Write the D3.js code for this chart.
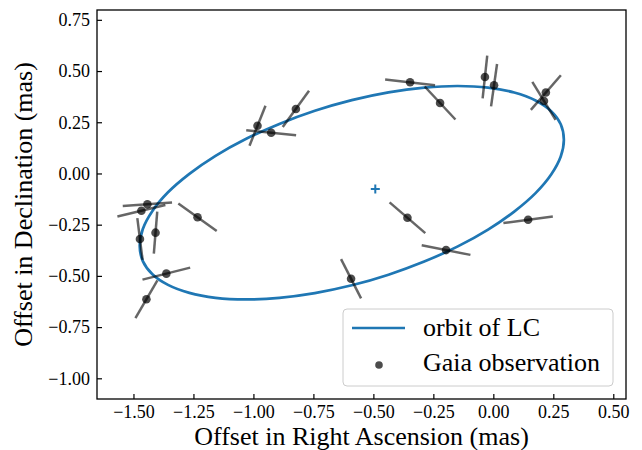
<!DOCTYPE html>
<html>
<head>
<meta charset="utf-8">
<script src="https://cdn.jsdelivr.net/npm/d3@7"></script>
<style>
  html, body { margin: 0; padding: 0; background: #fff; }
  svg { display: block; }
  text { font-family: "Liberation Serif", "Times New Roman", serif; fill: #000; }
</style>
</head>
<body>
<svg id="chart" width="642" height="450"></svg>
<script>
// Sky-plane orbit of the luminous companion (mas), traced around the ellipse
const orbitRA  = [0.294, 0.281, 0.241, 0.176, 0.087, -0.022, -0.148, -0.288, -0.437, -0.590,
                  -0.744, -0.892, -1.032, -1.158, -1.267, -1.356, -1.421, -1.461, -1.474, -1.461,
                  -1.421, -1.356, -1.267, -1.158, -1.032, -0.892, -0.744, -0.590, -0.437, -0.288,
                  -0.148, -0.022, 0.087, 0.176, 0.241, 0.281];
const orbitDec = [0.165, 0.240, 0.304, 0.356, 0.395, 0.419, 0.427, 0.419, 0.396, 0.358,
                  0.306, 0.242, 0.168, 0.086, -0.002, -0.092, -0.183, -0.271, -0.353, -0.428,
                  -0.492, -0.544, -0.583, -0.607, -0.615, -0.607, -0.584, -0.546, -0.494, -0.430,
                  -0.356, -0.274, -0.186, -0.096, -0.005, 0.083];

// Reference position marked with a cross
const centerRA = -0.492;
const centerDec = -0.076;

// Gaia epoch positions (mas) and the half-extent of each scan-direction error bar
const obsRA   = [-0.823, -0.983, -0.926, -1.442, -1.467, -1.233, -1.473, -1.408, -1.363, -1.446,
                 -0.358, -0.197, 0.145, -0.593, -0.347, -0.222, -0.035, 0.003, 0.219, 0.211];
const obsDec  = [0.315, 0.233, 0.199, -0.150, -0.182, -0.214, -0.320, -0.289, -0.489, -0.614,
                 -0.216, -0.374, -0.226, -0.514, 0.445, 0.344, 0.471, 0.431, 0.395, 0.354];
const errRA   = [0.0548, 0.0333, 0.104, 0.1027, 0.100, 0.080, 0.011, -0.0071, 0.0994, 0.0458,
                 0.0744, 0.1015, 0.103, 0.0417, 0.104, 0.064, -0.0096, -0.0125, -0.0625, 0.0485];
const errDec  = [0.0886, 0.0977, -0.0122, 0.0088, 0.0278, -0.0669, -0.1018, -0.1025, 0.0293, 0.0918,
                 -0.0750, -0.0234, 0.0161, -0.0959, -0.0139, -0.0806, -0.104, -0.1035, -0.0847, -0.0928];

// Axis ticks and labels
const xTicks = [-1.50, -1.25, -1.00, -0.75, -0.50, -0.25, 0.00, 0.25, 0.50];
const yTicks = [0.75, 0.50, 0.25, 0.00, -0.25, -0.50, -0.75, -1.00];
const xLabel = "Offset in Right Ascension (mas)";
const yLabel = "Offset in Declination (mas)";
const legendLabels = ["orbit of LC", "Gaia observation"];

const blue = "#1f77b4";
const svg = d3.select("#chart");
const plot = { left: 97, right: 626, top: 10, bottom: 399 };

const x = d3.scaleLinear().domain([-1.652, 0.553]).range([plot.left, plot.right]);
const y = d3.scaleLinear().domain([-1.101, 0.798]).range([plot.bottom, plot.top]);
const fmt = d3.format(".2f");

// Orbit
const orbit = orbitRA.map((ra, i) => [ra, orbitDec[i]]);
svg.append("path")
  .datum(orbit)
  .attr("d", d3.line().x(d => x(d[0])).y(d => y(d[1])).curve(d3.curveCatmullRomClosed.alpha(0.5)))
  .attr("fill", "none")
  .attr("stroke", blue)
  .attr("stroke-width", 2.7);

// Cross at the reference position
const cx = x(centerRA), cy = y(centerDec), arm = 4.5;
svg.append("path")
  .attr("d", `M${cx - arm},${cy}H${cx + arm}M${cx},${cy - arm}V${cy + arm}`)
  .attr("stroke", blue)
  .attr("stroke-width", 2);

// Observations: error bars then points
const obs = obsRA.map((ra, i) => ({ ra, dec: obsDec[i], dra: errRA[i], ddec: errDec[i] }));
svg.append("g").selectAll("line").data(obs).join("line")
  .attr("x1", d => x(d.ra - d.dra)).attr("y1", d => y(d.dec - d.ddec))
  .attr("x2", d => x(d.ra + d.dra)).attr("y2", d => y(d.dec + d.ddec))
  .attr("stroke", "#000").attr("stroke-opacity", 0.6).attr("stroke-width", 2.5);
svg.append("g").selectAll("circle").data(obs).join("circle")
  .attr("cx", d => x(d.ra)).attr("cy", d => y(d.dec)).attr("r", 4.3)
  .attr("fill", "#000").attr("fill-opacity", 0.7);

// Axes with inward ticks
const xAxis = d3.axisBottom(x).tickValues(xTicks).tickFormat(fmt).tickSizeInner(-5).tickSizeOuter(0).tickPadding(6);
const yAxis = d3.axisLeft(y).tickValues(yTicks).tickFormat(fmt).tickSizeInner(-5).tickSizeOuter(0).tickPadding(7);
const gx = svg.append("g").attr("transform", `translate(0,${plot.bottom})`).call(xAxis);
const gy = svg.append("g").attr("transform", `translate(${plot.left},0)`).call(yAxis);
[gx, gy].forEach(g => {
  g.select(".domain").remove();
  g.selectAll(".tick line").attr("stroke", "#000").attr("stroke-width", 1.2);
  g.selectAll(".tick text").attr("font-family", "Liberation Serif").attr("font-size", 18).attr("fill", "#000");
});

// Frame
svg.append("rect")
  .attr("x", plot.left).attr("y", plot.top)
  .attr("width", plot.right - plot.left).attr("height", plot.bottom - plot.top)
  .attr("fill", "none").attr("stroke", "#000").attr("stroke-width", 1.3);

// Axis titles
svg.append("text")
  .attr("x", (plot.left + plot.right) / 2).attr("y", 445)
  .attr("text-anchor", "middle").attr("font-size", 26)
  .text(xLabel);
svg.append("text")
  .attr("transform", `translate(32,${(plot.top + plot.bottom) / 2}) rotate(-90)`)
  .attr("text-anchor", "middle").attr("font-size", 26)
  .text(yLabel);

// Legend
const lg = svg.append("g");
lg.append("rect")
  .attr("x", 343).attr("y", 309).attr("width", 270).attr("height", 77)
  .attr("rx", 4).attr("fill", "#fff").attr("fill-opacity", 0.8)
  .attr("stroke", "#ccc").attr("stroke-width", 1);
lg.append("line")
  .attr("x1", 352).attr("x2", 405).attr("y1", 328).attr("y2", 328)
  .attr("stroke", blue).attr("stroke-width", 2.5);
lg.append("circle")
  .attr("cx", 379).attr("cy", 365).attr("r", 3.8)
  .attr("fill", "#000").attr("fill-opacity", 0.7);
lg.append("text").attr("x", 423).attr("y", 336).attr("font-size", 26).text(legendLabels[0]);
lg.append("text").attr("x", 423).attr("y", 371).attr("font-size", 26).text(legendLabels[1]);
</script>
</body>
</html>
